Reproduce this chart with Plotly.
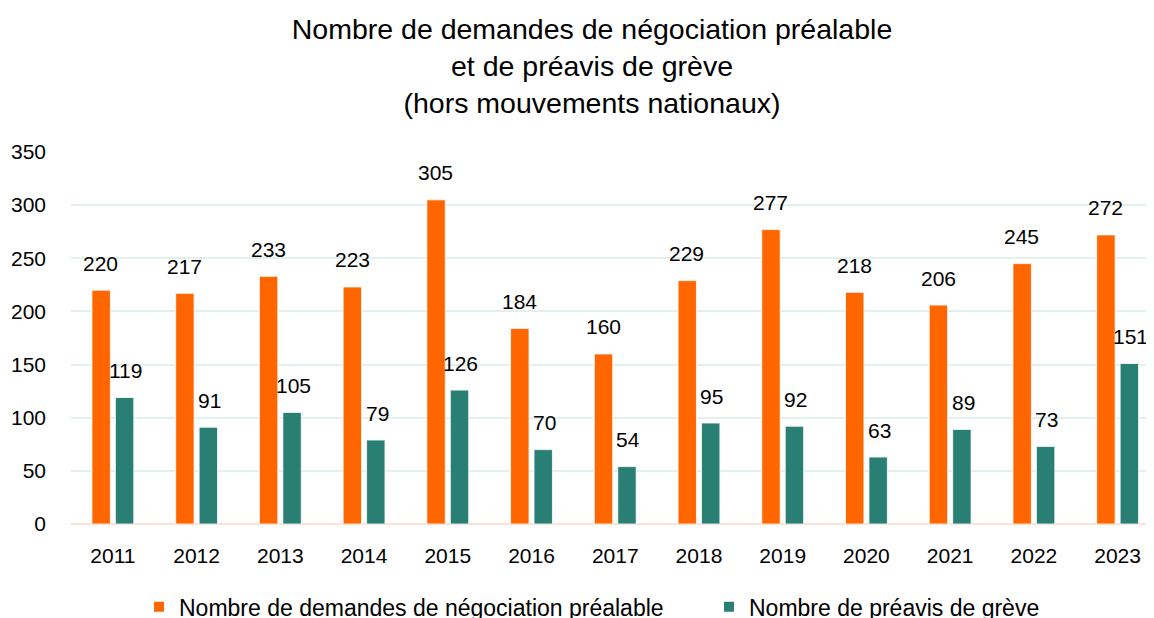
import plotly.graph_objects as go

years = ["2011", "2012", "2013", "2014", "2015", "2016", "2017", "2018", "2019", "2020", "2021", "2022", "2023"]
demandes = [220, 217, 233, 223, 305, 184, 160, 229, 277, 218, 206, 245, 272]
preavis = [119, 91, 105, 79, 126, 70, 54, 95, 92, 63, 89, 73, 151]
name_demandes = "Nombre de demandes de négociation préalable"
name_preavis = "Nombre de préavis de grève"
title_text = "Nombre de demandes de négociation préalable<br>et de préavis de grève<br>(hors mouvements nationaux)"

ORANGE = "#ff6600"
TEAL = "#2a7f75"
FONT = "Liberation Sans, Arial, sans-serif"

fig = go.Figure()
fig.add_trace(go.Bar(x=years, y=demandes, name=name_demandes, legend="legend",
                     marker=dict(color=ORANGE, line=dict(color="white", width=0.8)),
                     width=0.22, offset=-0.25))
fig.add_trace(go.Bar(x=years, y=preavis, name=name_preavis, legend="legend2",
                     marker=dict(color=TEAL, line=dict(color="white", width=0.8)),
                     width=0.22, offset=0.03))

annotations = []
for i, v in enumerate(demandes):
    annotations.append(dict(x=i, y=v, xref="x", yref="y", text=str(v), showarrow=False,
                            xshift=-12, yshift=27, font=dict(size=21, color="#000", family=FONT)))
for i, v in enumerate(preavis):
    annotations.append(dict(x=i, y=v, xref="x", yref="y", text=str(v), showarrow=False,
                            xshift=13, yshift=27, font=dict(size=21, color="#000", family=FONT)))

legend_common = dict(orientation="h", xref="container", yref="container", y=0.031, yanchor="middle",
                     xanchor="left", font=dict(size=23, color="#000", family=FONT),
                     bgcolor="rgba(0,0,0,0)", itemsizing="constant")

fig.update_layout(
    width=1154, height=618,
    margin=dict(l=63, r=0, t=144, b=102),
    paper_bgcolor="white", plot_bgcolor="white",
    title=dict(text=title_text, x=584 / 1154, xanchor="center", y=0.95, yanchor="top",
               font=dict(size=28.5, color="#000", family=FONT)),
    showlegend=True,
    legend=dict(x=131 / 1154, **legend_common),
    legend2=dict(x=701 / 1154, **legend_common),
    annotations=annotations,
    xaxis=dict(type="category", range=[-0.5, 12.53], tickfont=dict(size=21, color="#000", family=FONT),
               showgrid=False, ticks="", showline=False, ticklabelstandoff=17),
    yaxis=dict(range=[0, 350], dtick=50, tickfont=dict(size=21, color="#000", family=FONT),
               showgrid=True, gridcolor="#e3f1ee", gridwidth=2, zeroline=True, zerolinecolor="#fde3d3",
               zerolinewidth=2, ticks="", ticklabelstandoff=24),
)

fig.write_html("out.html")
